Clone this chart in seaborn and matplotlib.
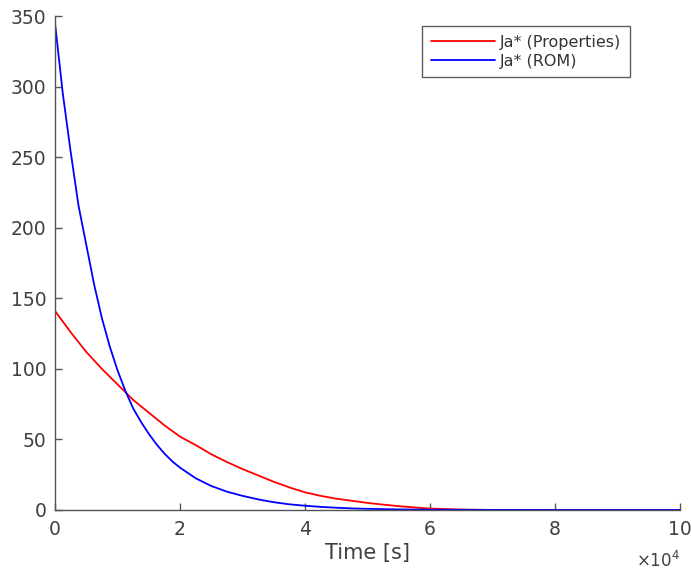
import numpy as np
import pandas as pd
import matplotlib

matplotlib.use('Agg')

import matplotlib.pyplot as plt
import matplotlib.ticker as mticker
import seaborn as sns

# time grid [s]
time_s = [0, 1250, 2500, 3750, 5000, 6250, 7500, 8750, 10000, 11250,
          12500, 13750, 15000, 16250, 17500, 18750, 20000, 22500, 25000,
          27500, 30000, 32500, 35000, 37500, 40000, 42500, 45000, 47500,
          50000, 52500, 55000, 57500, 60000, 65000, 70000, 80000, 90000,
          100000]

# Ja* (Properties)
ja_props = [141, 133.5, 126, 119, 112, 106, 100, 94.5, 89, 83.5,
            78, 73.5, 69, 64.5, 60, 56, 52, 46, 39.5,
            34, 29, 24.5, 20, 16, 12.5, 10, 8, 6.5,
            5, 3.8, 2.7, 1.8, 1.0, 0.3, 0, 0, 0,
            0]

# Ja* (ROM)
ja_rom = [345, 295, 254, 216, 188, 160, 136, 116, 99, 84.5,
          72, 62.5, 54, 46.5, 40, 34.5, 30, 22.5, 17,
          13, 10, 7.5, 5.5, 4, 3, 2.2, 1.6, 1.1,
          0.8, 0.6, 0.4, 0.3, 0.2, 0.1, 0.05, 0, 0,
          0]

labels = ['Ja* (Properties)', 'Ja* (ROM)']

df = pd.DataFrame({
    'time': time_s * 2,
    'value': ja_props + ja_rom,
    'series': [labels[0]] * len(time_s) + [labels[1]] * len(time_s),
})

sns.set_style('ticks')
plt.rcParams['font.family'] = ['DejaVu Sans']

fig = plt.figure(figsize=(6.91, 5.73), dpi=100)
ax = fig.add_axes([0.0796, 0.110, 0.9044, 0.862])

sns.lineplot(data=df, x='time', y='value', hue='series', hue_order=labels,
             palette=['#ff0000', '#0000ff'], linewidth=1.3, ax=ax)

ax.set_xlim(0, 100000)
ax.set_ylim(0, 350)
ax.set_xticks(np.arange(0, 100001, 20000))
ax.set_yticks(np.arange(0, 351, 50))
ax.xaxis.set_major_formatter(mticker.FuncFormatter(lambda v, p: f'{v / 1e4:g}'))

gray = '#404040'
for s in ['top', 'right']:
    ax.spines[s].set_visible(False)
for s in ['left', 'bottom']:
    ax.spines[s].set_color('#555555')
    ax.spines[s].set_linewidth(1.0)
ax.tick_params(direction='in', length=5, width=1, colors='#555555',
               labelcolor=gray, labelsize=13.5)
ax.tick_params(axis='x', pad=7)
ax.tick_params(axis='y', pad=6)

ax.set_xlabel('Time [s]', fontsize=15, color=gray, labelpad=3)
ax.set_ylabel('')

fig.text(0.984, 0.004, r'$\times10^{4}$', ha='right', va='bottom',
         fontsize=12, color=gray)

leg = ax.legend(loc='upper right', bbox_to_anchor=(0.92, 0.98),
                borderaxespad=0, fancybox=False, fontsize=11.5,
                handlelength=4.0, handletextpad=0.3, borderpad=0.55,
                labelspacing=0.25)
leg.get_frame().set_edgecolor('#333333')
leg.get_frame().set_linewidth(1.0)
for t in leg.get_texts():
    t.set_color('#333333')

fig.savefig('out.png', dpi=100)
